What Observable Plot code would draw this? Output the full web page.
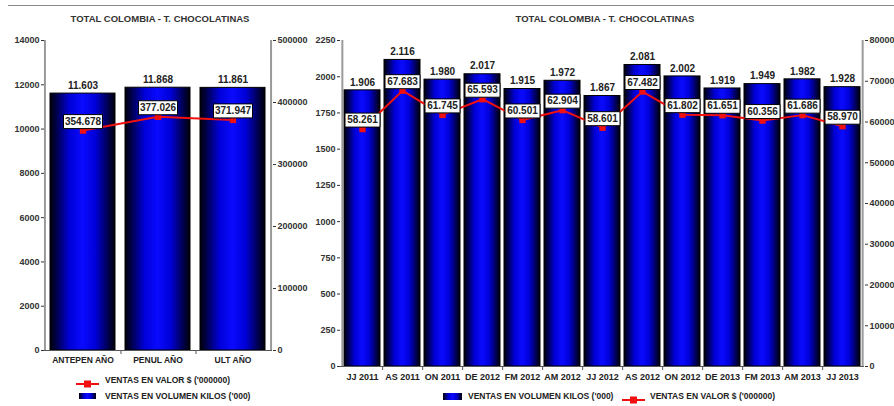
<!DOCTYPE html>
<html><head><meta charset="utf-8">
<script src="https://cdn.jsdelivr.net/npm/d3@7"></script>
<script src="https://cdn.jsdelivr.net/npm/@observablehq/plot@0.6"></script>
<style>
body{margin:0;background:#fff;font-family:"Liberation Sans",Arial,sans-serif;}
#wrap{position:relative;width:894px;height:406px;overflow:hidden;background:#fff;}
.layer{position:absolute;top:0;}
.layer svg{display:block;max-width:none;}
.title{position:absolute;top:13px;font-weight:bold;font-size:9.5px;color:#333;text-align:center;line-height:12px;}
.legtxt{position:absolute;font-weight:bold;font-size:8.5px;color:#222;white-space:nowrap;line-height:10px;}
.sw{position:absolute;}
.topline{position:absolute;top:5px;height:1px;background:#8a8a8a;}
</style></head><body><div id="wrap"></div>
<script>
// ---- data ----
const titleText = "TOTAL COLOMBIA - T. CHOCOLATINAS";
const volumeLabel = "VENTAS EN VOLUMEN KILOS ('000)";
const valueLabel = "VENTAS EN VALOR $ ('000000)";

const annualCats = ["ANTEPEN AÑO", "PENUL AÑO", "ULT AÑO"];
const annualVolume = [11603, 11868, 11861];
const annualValue = [354678, 377026, 371947];
const annualVolTicks = [0, 2000, 4000, 6000, 8000, 10000, 12000, 14000];
const annualValTicks = [0, 100000, 200000, 300000, 400000, 500000];

const periodCats = ["JJ 2011", "AS 2011", "ON 2011", "DE 2012", "FM 2012", "AM 2012", "JJ 2012",
  "AS 2012", "ON 2012", "DE 2013", "FM 2013", "AM 2013", "JJ 2013"];
const periodVolume = [1906, 2116, 1980, 2017, 1915, 1972, 1867, 2081, 2002, 1919, 1949, 1982, 1928];
const periodValue = [58261, 67683, 61745, 65593, 60501, 62904, 58601, 67482, 61802, 61651, 60356, 61686, 58970];
const periodVolTicks = [0, 250, 500, 750, 1000, 1250, 1500, 1750, 2000, 2250];
const periodValTicks = [0, 10000, 20000, 30000, 40000, 50000, 60000, 70000, 80000];

// ---- helpers ----
const es = d3.formatLocale({decimal: ",", thousands: ".", grouping: [3], currency: ["$", ""]});
const fmt = es.format(",d");
const FONT = '"Liberation Sans", Arial, sans-serif';
const RED = "#f01010";
const wrap = document.getElementById("wrap");

function boxSymbol(w, h) {
  return {draw(ctx) { ctx.rect(-w / 2, -h / 2, w, h); }};
}

function panel(o) {
  const {left, width, ml, mr, mt, mb, cats, vol, val, volTicks, valTicks, pi, po, boxW, xFont, xPad, gid} = o;
  const height = 406;
  const n = cats.length;
  const step = (width - ml - mr) / (n - pi + 2 * po);
  const bw = step * (1 - pi);
  const edge = po * step + bw / 2;
  const rows = cats.map((c, i) => ({cat: c, vol: vol[i], val: val[i]}));
  const xOpt = {type: "band", domain: cats, paddingInner: pi, paddingOuter: po};
  const style = {background: "transparent", fontFamily: FONT, fontWeight: "bold", fontSize: "9px", color: "#222", overflow: "visible"};

  const base = Plot.plot({
    width, height, marginLeft: ml, marginRight: mr, marginTop: mt, marginBottom: mb,
    style,
    x: {...xOpt, label: null, axis: null},
    y: {domain: [0, volTicks[volTicks.length - 1]], label: null, axis: null},
    marks: [
      Plot.barY(rows, {x: "cat", y: "vol", fill: `url(#${gid})`, stroke: "#000", strokeWidth: 1}),
      Plot.text(rows, {x: "cat", y: "vol", text: d => fmt(d.vol), dy: -8, fontSize: 10, fontWeight: "bold", fill: "#222"}),
      Plot.ruleY([0], {stroke: "#555", strokeWidth: 1}),
      Plot.ruleX(cats.slice(0, -1), {x: d => d, dx: step / 2, y1: 0, y2: 0, insetBottom: -4, stroke: "#555"}),
      Plot.ruleX([cats[0]], {x: d => d, dx: -edge, stroke: "#9a9a9a", strokeWidth: 2}),
      Plot.axisY({ticks: volTicks, tickFormat: d => String(d), tickSize: 3, tickPadding: 2, fontSize: 9, color: "#333", label: null}),
      Plot.axisX({tickSize: 0, tickPadding: xPad, fontSize: xFont, color: "#222", label: null})
    ]
  });
  d3.select(base).insert("defs", ":first-child").html(
    `<linearGradient id="${gid}" x1="0" x2="1" y1="0" y2="0">
       <stop offset="0" stop-color="#000008"/>
       <stop offset="0.1" stop-color="#00004a"/>
       <stop offset="0.3" stop-color="#0000d8"/>
       <stop offset="0.5" stop-color="#0a0aff"/>
       <stop offset="0.7" stop-color="#0000d8"/>
       <stop offset="0.9" stop-color="#00004a"/>
       <stop offset="1" stop-color="#000008"/>
     </linearGradient>`);

  const over = Plot.plot({
    width, height, marginLeft: ml, marginRight: mr, marginTop: mt, marginBottom: mb,
    style,
    x: {...xOpt, axis: null},
    y: {domain: [0, valTicks[valTicks.length - 1]], label: null, axis: null},
    marks: [
      Plot.line(rows, {x: "cat", y: "val", stroke: RED, strokeWidth: 2}),
      Plot.dot(rows, {x: "cat", y: "val", symbol: "square", r: 3.6, fill: RED}),
      Plot.dot(rows, {x: "cat", y: "val", symbol: boxSymbol(boxW, 14), r: 5, fill: "#fff", stroke: "#000", strokeWidth: 1, dy: -9}),
      Plot.text(rows, {x: "cat", y: "val", text: d => fmt(d.val), dy: -9, fontSize: 10, fontWeight: "bold", fill: "#222"}),
      Plot.ruleX([cats[n - 1]], {x: d => d, dx: edge, stroke: "#9a9a9a", strokeWidth: 2}),
      Plot.axisY({anchor: "right", ticks: valTicks, tickFormat: d => String(d), tickSize: 3, tickPadding: 2, fontSize: 9, color: "#333", label: null})
    ]
  });

  for (const svg of [base, over]) {
    const d = document.createElement("div");
    d.className = "layer";
    d.style.left = left + "px";
    d.appendChild(svg);
    wrap.appendChild(d);
  }
}

function addText(cls, txt, x, y, w) {
  const d = document.createElement("div");
  d.className = cls;
  d.textContent = txt;
  d.style.left = x + "px";
  d.style.top = y + "px";
  if (w) d.style.width = w + "px";
  wrap.appendChild(d);
}
function addLineSwatch(x, y, w) {
  const d = document.createElement("div");
  d.className = "sw";
  d.style.left = x + "px"; d.style.top = (y - 5) + "px";
  d.innerHTML = `<svg width="${w}" height="10"><line x1="0" x2="${w}" y1="5" y2="5" stroke="${RED}" stroke-width="2"/><rect x="${w/2-3.5}" y="1.5" width="7" height="7" fill="${RED}"/></svg>`;
  wrap.appendChild(d);
}
function addBarSwatch(x, y, w, h) {
  const d = document.createElement("div");
  d.className = "sw";
  d.style.left = x + "px"; d.style.top = (y - h / 2) + "px";
  d.style.width = w + "px"; d.style.height = h + "px";
  d.style.background = "linear-gradient(to right,#000008,#0000d8 30%,#0a0aff 50%,#0000d8 70%,#000008)";
  wrap.appendChild(d);
}

// top rule lines
const t1 = document.createElement("div"); t1.className = "topline"; t1.style.left = "8px"; t1.style.width = "292px"; wrap.appendChild(t1);
const t2 = document.createElement("div"); t2.className = "topline"; t2.style.left = "300px"; t2.style.width = "594px"; wrap.appendChild(t2);

panel({left: 0, width: 300, ml: 44, mr: 28, mt: 40, mb: 56, cats: annualCats, vol: annualVolume, val: annualValue,
  volTicks: annualVolTicks, valTicks: annualValTicks, pi: 0.13, po: 0.066, boxW: 39, xFont: 8.5, xPad: 6, gid: "gA"});
panel({left: 300, width: 594, ml: 40, mr: 30, mt: 40, mb: 40, cats: periodCats, vol: periodVolume, val: periodValue,
  volTicks: periodVolTicks, valTicks: periodValTicks, pi: 0.1, po: 0.05, boxW: 35, xFont: 9, xPad: 7, gid: "gB"});

// titles
addText("title", titleText, 0, 13, 320);
addText("title", titleText, 316, 13, 578);

// legends
addLineSwatch(76, 380, 23);
addText("legtxt", valueLabel, 105, 375);
addBarSwatch(79, 396, 17, 6);
addText("legtxt", volumeLabel, 105, 391);

addBarSwatch(443, 396, 19, 7);
addText("legtxt", volumeLabel, 468, 391);
addLineSwatch(622, 396, 23);
addText("legtxt", valueLabel, 650, 391);
</script></body></html>
